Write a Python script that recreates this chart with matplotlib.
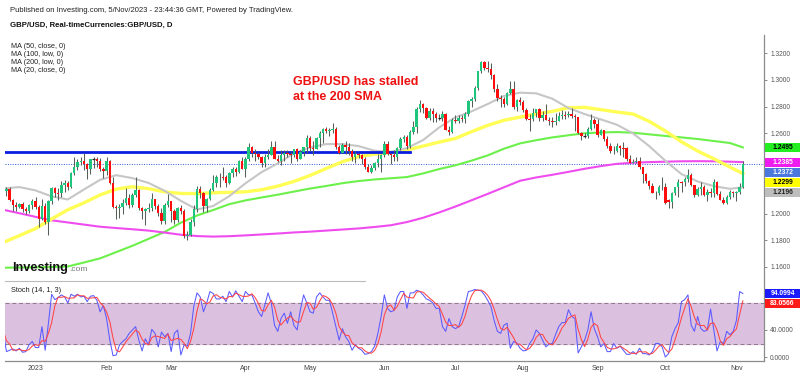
import numpy as np
import pandas as pd
import matplotlib.pyplot as plt
from matplotlib.patches import Rectangle
from matplotlib.lines import Line2D

plt.rcParams['font.family'] = ['Liberation Sans', 'DejaVu Sans']

# ---- daily GBP/USD bars, 19 Dec 2022 .. 3 Nov 2023 ----
opens = [
    1.2140, 1.2170, 1.2185, 1.2100, 1.2060, 1.2050, 1.2070, 1.2030, 1.2020, 1.2060,  # Dec
    1.2090, 1.2050, 1.1960, 1.2055, 1.1935, 1.2090, 1.2190, 1.2155, 1.2150, 1.2215, 1.2230,
    1.2200, 1.2300, 1.2350, 1.2385, 1.2395, 1.2370, 1.2330, 1.2405, 1.2405, 1.2395, 1.2335,  # Jan
    1.2320, 1.2395, 1.2225, 1.2050, 1.2040, 1.2050, 1.2075, 1.2115, 1.2060, 1.2140,
    1.2175, 1.2040, 1.2020, 1.2030, 1.2040, 1.2105, 1.2055, 1.2005, 1.1945, 1.2060,  # Feb
    1.2090, 1.2020, 1.1950, 1.2040, 1.2015, 1.1830, 1.1840, 1.1935, 1.2030, 1.2180, 1.2155, 1.2055,
    1.2110, 1.2175, 1.2225, 1.2270, 1.2275, 1.2270, 1.2230, 1.2300, 1.2330, 1.2310, 1.2390,  # Mar
    1.2335, 1.2405, 1.2500, 1.2450, 1.2445, 1.2420, 1.2380, 1.2425, 1.2440, 1.2495,
    1.2410, 1.2395, 1.2435, 1.2450, 1.2445, 1.2440, 1.2480, 1.2410, 1.2460, 1.2495,  # Apr
    1.2565, 1.2490, 1.2485, 1.2565, 1.2600, 1.2635, 1.2615, 1.2625, 1.2630, 1.2495, 1.2450, 1.2515,
    1.2495, 1.2470, 1.2420, 1.2445, 1.2440, 1.2410, 1.2345, 1.2310, 1.2340, 1.2380, 1.2410,  # May
    1.2435, 1.2520, 1.2445, 1.2435, 1.2425, 1.2490, 1.2560, 1.2575, 1.2505, 1.2610, 1.2645,
    1.2785, 1.2820, 1.2790, 1.2715, 1.2765, 1.2745, 1.2715, 1.2715, 1.2745, 1.2625, 1.2610,  # Jun
    1.2700, 1.2690, 1.2715, 1.2710, 1.2745, 1.2840, 1.2860, 1.2940, 1.3065, 1.3135, 1.3090,
    1.3085, 1.3040, 1.2935, 1.2865, 1.2855, 1.2820, 1.2900, 1.2930, 1.2795, 1.2850,  # Jul
    1.2835, 1.2775, 1.2710, 1.2710, 1.2750, 1.2785, 1.2715, 1.2740, 1.2700, 1.2690, 1.2685, 1.2690,
    1.2730, 1.2740, 1.2735, 1.2745, 1.2730, 1.2720, 1.2600, 1.2580, 1.2580, 1.2635, 1.2700,  # Aug
    1.2670, 1.2590, 1.2625, 1.2560, 1.2505, 1.2465, 1.2465, 1.2505, 1.2490, 1.2490, 1.2410,
    1.2380, 1.2385, 1.2395, 1.2345, 1.2295, 1.2240, 1.2205, 1.2150, 1.2155, 1.2195,  # Sep
    1.2200, 1.2100, 1.2085, 1.2155, 1.2195, 1.2235, 1.2235, 1.2260, 1.2290, 1.2210, 1.2135,
    1.2185, 1.2195, 1.2140, 1.2160, 1.2150, 1.2235, 1.2145, 1.2100, 1.2075, 1.2125, 1.2160,  # Oct
    1.2150, 1.2160, 1.2200,  # Nov
]
highs = [
    1.2195, 1.2200, 1.2200, 1.2110, 1.2085, 1.2080, 1.2085, 1.2045, 1.2070, 1.2110,
    1.2120, 1.2060, 1.2110, 1.2080, 1.2100, 1.2200, 1.2200, 1.2190, 1.2245, 1.2250, 1.2245,
    1.2310, 1.2420, 1.2410, 1.2420, 1.2450, 1.2380, 1.2410, 1.2420, 1.2420, 1.2415, 1.2350,
    1.2420, 1.2400, 1.2270, 1.2065, 1.2070, 1.2110, 1.2190, 1.2145, 1.2150, 1.2270,
    1.2180, 1.2050, 1.2040, 1.2075, 1.2150, 1.2110, 1.2070, 1.2040, 1.2080, 1.2145,
    1.2090, 1.2035, 1.2050, 1.2060, 1.2030, 1.1870, 1.1960, 1.2060, 1.2205, 1.2205, 1.2160, 1.2115,
    1.2190, 1.2285, 1.2285, 1.2300, 1.2345, 1.2290, 1.2310, 1.2345, 1.2345, 1.2400, 1.2425,
    1.2420, 1.2525, 1.2505, 1.2485, 1.2460, 1.2430, 1.2445, 1.2485, 1.2545, 1.2545,
    1.2440, 1.2475, 1.2475, 1.2475, 1.2470, 1.2485, 1.2490, 1.2475, 1.2495, 1.2585,
    1.2580, 1.2545, 1.2570, 1.2620, 1.2640, 1.2645, 1.2640, 1.2680, 1.2650, 1.2515, 1.2530, 1.2545,
    1.2525, 1.2480, 1.2470, 1.2455, 1.2445, 1.2420, 1.2370, 1.2360, 1.2385, 1.2445, 1.2445,
    1.2545, 1.2545, 1.2455, 1.2475, 1.2495, 1.2570, 1.2585, 1.2590, 1.2625, 1.2695, 1.2795,
    1.2850, 1.2825, 1.2800, 1.2790, 1.2790, 1.2760, 1.2745, 1.2765, 1.2750, 1.2655, 1.2715,
    1.2735, 1.2735, 1.2740, 1.2760, 1.2850, 1.2870, 1.2955, 1.3070, 1.3145, 1.3145, 1.3140,
    1.3125, 1.3045, 1.2970, 1.2890, 1.2875, 1.2910, 1.2995, 1.2995, 1.2860, 1.2870,
    1.2850, 1.2790, 1.2745, 1.2790, 1.2785, 1.2790, 1.2765, 1.2820, 1.2720, 1.2720, 1.2750, 1.2760,
    1.2775, 1.2765, 1.2770, 1.2790, 1.2745, 1.2725, 1.2610, 1.2605, 1.2645, 1.2745, 1.2715,
    1.2710, 1.2635, 1.2625, 1.2580, 1.2525, 1.2505, 1.2525, 1.2510, 1.2535, 1.2495, 1.2440,
    1.2410, 1.2425, 1.2425, 1.2350, 1.2300, 1.2250, 1.2225, 1.2170, 1.2210, 1.2270,
    1.2230, 1.2110, 1.2160, 1.2200, 1.2260, 1.2245, 1.2275, 1.2335, 1.2305, 1.2215, 1.2200,
    1.2235, 1.2215, 1.2180, 1.2190, 1.2260, 1.2240, 1.2165, 1.2120, 1.2140, 1.2175, 1.2170,
    1.2170, 1.2230, 1.2390,
]
lows = [
    1.2120, 1.2130, 1.2090, 1.2020, 1.2020, 1.2040, 1.2010, 1.2000, 1.2005, 1.2030,
    1.2030, 1.1900, 1.1950, 1.1925, 1.1840, 1.2070, 1.2120, 1.2100, 1.2120, 1.2160, 1.2175,
    1.2190, 1.2290, 1.2325, 1.2360, 1.2325, 1.2260, 1.2295, 1.2340, 1.2350, 1.2320, 1.2265,
    1.2290, 1.2220, 1.2040, 1.1960, 1.1970, 1.2000, 1.2060, 1.2040, 1.2045, 1.2120,
    1.2025, 1.1960, 1.1915, 1.2010, 1.2020, 1.2030, 1.1985, 1.1925, 1.1925, 1.2045,
    1.1940, 1.1920, 1.1940, 1.1995, 1.1820, 1.1805, 1.1830, 1.1905, 1.2010, 1.2115, 1.2010, 1.2010,
    1.2100, 1.2170, 1.2200, 1.2200, 1.2250, 1.2200, 1.2220, 1.2270, 1.2280, 1.2300, 1.2330,
    1.2275, 1.2390, 1.2420, 1.2390, 1.2410, 1.2345, 1.2345, 1.2410, 1.2440, 1.2405,
    1.2385, 1.2365, 1.2390, 1.2420, 1.2375, 1.2425, 1.2390, 1.2405, 1.2430, 1.2455,
    1.2470, 1.2440, 1.2480, 1.2500, 1.2525, 1.2605, 1.2580, 1.2600, 1.2485, 1.2445, 1.2450, 1.2445,
    1.2435, 1.2390, 1.2380, 1.2415, 1.2370, 1.2330, 1.2310, 1.2300, 1.2325, 1.2350, 1.2310,
    1.2425, 1.2435, 1.2370, 1.2390, 1.2390, 1.2475, 1.2535, 1.2485, 1.2490, 1.2595, 1.2605,
    1.2760, 1.2750, 1.2705, 1.2700, 1.2685, 1.2685, 1.2700, 1.2690, 1.2625, 1.2590, 1.2605,
    1.2680, 1.2680, 1.2685, 1.2680, 1.2730, 1.2800, 1.2845, 1.2925, 1.3055, 1.3075, 1.3060,
    1.3010, 1.2910, 1.2845, 1.2800, 1.2800, 1.2810, 1.2895, 1.2780, 1.2765, 1.2815,
    1.2760, 1.2700, 1.2620, 1.2690, 1.2720, 1.2690, 1.2690, 1.2700, 1.2660, 1.2650, 1.2660, 1.2690,
    1.2710, 1.2710, 1.2720, 1.2715, 1.2615, 1.2595, 1.2550, 1.2565, 1.2565, 1.2625, 1.2640,
    1.2575, 1.2585, 1.2545, 1.2490, 1.2455, 1.2445, 1.2460, 1.2440, 1.2425, 1.2390, 1.2380,
    1.2375, 1.2375, 1.2330, 1.2230, 1.2230, 1.2185, 1.2150, 1.2110, 1.2135, 1.2175,
    1.2070, 1.2040, 1.2040, 1.2135, 1.2120, 1.2160, 1.2205, 1.2235, 1.2205, 1.2120, 1.2130,
    1.2135, 1.2130, 1.2090, 1.2120, 1.2120, 1.2135, 1.2100, 1.2070, 1.2070, 1.2110, 1.2120,
    1.2095, 1.2145, 1.2190,
]
closes = [
    1.2170, 1.2185, 1.2100, 1.2060, 1.2050, 1.2070, 1.2030, 1.2020, 1.2060, 1.2090,
    1.2050, 1.1960, 1.2055, 1.1935, 1.2090, 1.2190, 1.2155, 1.2150, 1.2215, 1.2230, 1.2200,
    1.2300, 1.2350, 1.2385, 1.2395, 1.2370, 1.2330, 1.2405, 1.2405, 1.2395, 1.2335, 1.2320,
    1.2395, 1.2225, 1.2050, 1.2040, 1.2050, 1.2075, 1.2115, 1.2060, 1.2140, 1.2175,
    1.2040, 1.2020, 1.2030, 1.2040, 1.2105, 1.2055, 1.2005, 1.1945, 1.2060, 1.2090,
    1.2020, 1.1950, 1.2040, 1.2015, 1.1830, 1.1840, 1.1935, 1.2030, 1.2180, 1.2155, 1.2055, 1.2110,
    1.2175, 1.2225, 1.2270, 1.2275, 1.2270, 1.2230, 1.2300, 1.2330, 1.2310, 1.2390, 1.2335,
    1.2405, 1.2500, 1.2450, 1.2445, 1.2420, 1.2380, 1.2425, 1.2440, 1.2495, 1.2410,
    1.2395, 1.2435, 1.2450, 1.2445, 1.2440, 1.2480, 1.2410, 1.2460, 1.2495, 1.2565,
    1.2490, 1.2485, 1.2565, 1.2600, 1.2635, 1.2615, 1.2625, 1.2630, 1.2495, 1.2450, 1.2515, 1.2495,
    1.2470, 1.2420, 1.2445, 1.2440, 1.2410, 1.2345, 1.2310, 1.2340, 1.2380, 1.2410, 1.2435,
    1.2520, 1.2445, 1.2435, 1.2425, 1.2490, 1.2560, 1.2575, 1.2505, 1.2610, 1.2645, 1.2785,
    1.2820, 1.2790, 1.2715, 1.2765, 1.2745, 1.2715, 1.2715, 1.2745, 1.2625, 1.2610, 1.2700,
    1.2690, 1.2715, 1.2710, 1.2745, 1.2840, 1.2860, 1.2940, 1.3065, 1.3135, 1.3090, 1.3085,
    1.3040, 1.2935, 1.2865, 1.2855, 1.2820, 1.2900, 1.2930, 1.2795, 1.2850, 1.2835,
    1.2775, 1.2710, 1.2705, 1.2750, 1.2785, 1.2715, 1.2740, 1.2700, 1.2690, 1.2685, 1.2690, 1.2730,
    1.2740, 1.2735, 1.2745, 1.2730, 1.2720, 1.2600, 1.2580, 1.2580, 1.2635, 1.2700, 1.2670,
    1.2590, 1.2625, 1.2560, 1.2505, 1.2465, 1.2470, 1.2505, 1.2490, 1.2485, 1.2410, 1.2380,
    1.2385, 1.2395, 1.2345, 1.2295, 1.2240, 1.2205, 1.2150, 1.2155, 1.2195, 1.2200,
    1.2075, 1.2085, 1.2155, 1.2195, 1.2235, 1.2230, 1.2260, 1.2290, 1.2210, 1.2135, 1.2185,
    1.2195, 1.2140, 1.2160, 1.2150, 1.2235, 1.2145, 1.2100, 1.2075, 1.2125, 1.2160, 1.2150,
    1.2160, 1.2200, 1.2372,
]

# moving averages, sampled every 5th bar from the first bar, plus the last bar
ma20 = [1.2188, 1.2198, 1.2173, 1.2128, 1.2105, 1.2180, 1.2252, 1.2287, 1.2265, 1.2229,
        1.2170, 1.2095, 1.2030, 1.2056, 1.2130, 1.2226, 1.2310, 1.2375, 1.2450, 1.2495,
        1.2520, 1.2520, 1.2505, 1.2470, 1.2462, 1.2490, 1.2550, 1.2645, 1.2720, 1.2765,
        1.2820, 1.2880, 1.2905, 1.2900, 1.2860, 1.2790, 1.2745, 1.2705, 1.2665, 1.2600,
        1.2505, 1.2395, 1.2295, 1.2240, 1.2205, 1.2185, 1.2196]
ma50 = [1.1783, 1.1834, 1.1887, 1.1959, 1.2028, 1.2080, 1.2139, 1.2183, 1.2200, 1.2186,
        1.2162, 1.2150, 1.2149, 1.2155, 1.2159, 1.2162, 1.2178, 1.2205, 1.2240, 1.2285,
        1.2337, 1.2388, 1.2425, 1.2445, 1.2457, 1.2475, 1.2505, 1.2535, 1.2562, 1.2613,
        1.2660, 1.2698, 1.2722, 1.2746, 1.2765, 1.2792, 1.2795, 1.2778, 1.2760, 1.2745,
        1.2690, 1.2618, 1.2537, 1.2468, 1.2410, 1.2348, 1.2299]
ma100 = [1.1594, 1.1595, 1.1597, 1.1599, 1.1603, 1.1633, 1.1664, 1.1711, 1.1758, 1.1810,
         1.1862, 1.1931, 1.1985, 1.2026, 1.2070, 1.2098, 1.2120, 1.2141, 1.2164, 1.2187,
         1.2206, 1.2227, 1.2243, 1.2255, 1.2264, 1.2273, 1.2300, 1.2333, 1.2361, 1.2396,
         1.2435, 1.2485, 1.2525, 1.2549, 1.2570, 1.2586, 1.2601, 1.2607, 1.2610, 1.2605,
         1.2593, 1.2581, 1.2570, 1.2558, 1.2543, 1.2528, 1.2495]
ma200 = [1.2028, 1.2002, 1.1975, 1.1949, 1.1933, 1.1917, 1.1901, 1.1891, 1.1882, 1.1872,
         1.1857, 1.1841, 1.1831, 1.1827, 1.1830, 1.1836, 1.1843, 1.1850, 1.1858, 1.1864,
         1.1872, 1.1880, 1.1888, 1.1899, 1.1912, 1.1936, 1.1968, 1.2008, 1.2052, 1.2099,
         1.2147, 1.2196, 1.2245, 1.2270, 1.2290, 1.2312, 1.2335, 1.2355, 1.2372, 1.2380,
         1.2385, 1.2388, 1.2391, 1.2392, 1.2391, 1.2388, 1.2385]

# stochastic %K (14, 1) per bar
stoch_k = [40, 8, 10, 12, 9, 13, 7, 8, 18, 23,
           14, 14, 45, 10, 50, 93, 85, 88, 92, 89,
           80, 93, 90, 93, 89, 90, 82, 90, 91, 84,
           67, 76, 57, 25, 2, 3, 18, 23, 27, 35,
           40, 45, 25, 9, 27, 18, 41, 35, 15, 37,
           30, 35, 8, 35, 40, 3, 18, 16, 35, 75,
           95, 89, 67, 80, 97, 94, 86, 86, 90, 82,
           97, 89, 98, 90, 82, 97, 92, 92, 80, 67,
           60, 77, 95, 80, 47, 38, 57, 65, 50, 67,
           47, 40, 70, 92, 80, 67, 65, 89, 95, 89,
           84, 84, 65, 45, 25, 42, 30, 23, 10, 18,
           13, 10, 4, 5, 8, 16, 35, 60, 92, 72,
           67, 69, 89, 97, 97, 72, 95, 95, 99, 97,
           92, 86, 84, 80, 72, 72, 45, 38, 57, 45,
           42, 45, 60, 77, 97, 98, 100, 99, 98, 92,
           84, 75, 54, 38, 35, 47, 50, 13, 23, 21,
           13, 9, 10, 20, 27, 40, 35, 25, 15, 19,
           20, 33, 45, 51, 51, 70, 60, 57, 6, 15,
           25, 40, 67, 42, 30, 15, 20, 8, 8, 20,
           13, 16, 10, 4, 4, 8, 4, 13, 5, 5,
           3, 8, 20, 20, 15, 0, 5, 30, 42, 51,
           82, 85, 92, 47, 38, 60, 42, 38, 40, 71,
           40, 9, 23, 20, 38, 33, 38, 54, 97, 94.0994]

resistance = 1.2460
resistance_until = '2023-06-13'

n = len(closes)
dates = pd.bdate_range('2022-12-19', periods=n)
x = np.arange(n)
o = np.array(opens[:n]); h = np.array(highs[:n]); l = np.array(lows[:n]); c = np.array(closes[:n])

ma_x = np.r_[np.arange(0, n, 5), n - 1][:len(ma20)]

k = pd.Series(stoch_k, dtype=float)
d = k.rolling(3, min_periods=1).mean()
d.iloc[-1] = 83.0566
kx = np.arange(len(k))

W, H = 800, 376
fig = plt.figure(figsize=(8, 3.76), dpi=100)
fig.patch.set_facecolor('white')

ax = fig.add_axes([5 / W, 1 - 281 / H, 759 / W, 246 / H])
axs = fig.add_axes([5 / W, 1 - 361 / H, 759 / W, 79 / H], sharex=ax)

# ---- main panel ----
ax.plot(ma_x, ma100, color='#6cf04a', lw=1.5, zorder=2)
ax.plot(ma_x, ma200, color='#ef4cef', lw=1.5, zorder=2)
ax.plot(ma_x, ma50, color='#ffff55', lw=2.4, zorder=2)
ax.plot(ma_x, ma20, color='#c6c6c6', lw=1.5, zorder=2)

end_i = dates.get_indexer([pd.Timestamp(resistance_until)])[0]
ax.plot([0, end_i], [resistance, resistance], color='#0a1ee0', lw=2.0, zorder=3)
ax.axhline(c[-1], color='#2f56d8', lw=0.7, ls=(0, (1, 1.5)), zorder=1)

up = c > o
dn = c < o
eq = c == o
body = np.maximum(np.abs(c - o), 0.0006)
ax.vlines(x, l, h, color='#556058', lw=0.75, zorder=4)
ax.bar(x[up], body[up], bottom=o[up], width=0.75, color='#1fc57a', zorder=5)
ax.bar(x[dn], body[dn], bottom=c[dn] - (body[dn] - (o - c)[dn]), width=0.75,
       color='#ff0d0d', zorder=5)
ax.hlines(c[eq], x[eq] - 0.5, x[eq] + 0.5, color='#222222', lw=0.9, zorder=5)

x0 = 10 - 30.5 / 3.23
x1 = 10 + 728.5 / 3.23
ax.set_xlim(x0, x1)
ax.set_ylim(1.32 - (281 - 53.3) / 1335, 1.32 + (53.3 - 35) / 1335)

ax.yaxis.tick_right()
ax.set_yticks([1.16, 1.18, 1.20, 1.26, 1.28, 1.30, 1.32])
ax.yaxis.set_major_formatter(plt.FormatStrFormatter('%.4f'))
ax.tick_params(axis='y', length=2.5, width=0.6, color='#777777', labelsize=4.8,
               labelcolor='#555555', pad=2)
ax.tick_params(axis='x', length=0, labelbottom=False)
for s in ['top', 'left', 'bottom']:
    ax.spines[s].set_visible(False)
ax.spines['right'].set_color('#8c8c8c')
ax.spines['right'].set_linewidth(0.9)
ax.set_facecolor('none')


def label_boxes(axis, items, step):
    """Coloured value tags on the right, stacked so they do not overlap."""
    prev = None
    for val, txt, fc, tc in sorted(items, key=lambda t: -t[0]):
        yp = axis.transData.transform((0, val))[1]
        if prev is not None and yp > prev - step:
            yp = prev - step
        prev = yp
        fig.add_artist(Rectangle((765 / W, (yp - step / 2) / H), 35 / W, (step - 0.5) / H,
                                 transform=fig.transFigure, facecolor=fc, edgecolor='none'))
        fig.text(782.5 / W, yp / H, txt, color=tc, fontsize=4.9, fontweight='bold',
                 ha='center', va='center')


label_boxes(ax, [(ma100[-1], f'{ma100[-1]:.4f}', '#22ee22', '#000000'),
                 (ma200[-1], f'{ma200[-1]:.4f}', '#ee1cee', '#ffffff'),
                 (c[-1], f'{c[-1]:.4f}', '#4a78dc', '#ffffff'),
                 (ma50[-1], f'{ma50[-1]:.4f}', '#ffff00', '#000000'),
                 (ma20[-1], f'{ma20[-1]:.4f}', '#bdbdbd', '#222222')], 10)

# ---- stochastic panel ----
axs.axhspan(20, 80, color='#dcc0e0', zorder=0)
axs.axhline(80, color='#8a7a8a', lw=0.7, ls=(0, (4, 3)), zorder=1)
axs.axhline(20, color='#8a7a8a', lw=0.7, ls=(0, (4, 3)), zorder=1)
axs.plot(kx, k, color='#5a5aff', lw=0.75, zorder=3)
axs.plot(kx, d, color='#ff4444', lw=0.75, zorder=3)
axs.set_ylim((357 - 361) / 0.675, (357 - 282) / 0.675)

month_pos = [i for i in range(n) if i == 0 or dates[i].month != dates[i - 1].month][1:]
month_lab = ['2023' if dates[i].month == 1 else dates[i].strftime('%b') for i in month_pos]
axs.set_xticks(month_pos)
axs.set_xticklabels(month_lab)
axs.tick_params(axis='x', length=0, labelsize=5, labelcolor='#444444', pad=3)
axs.yaxis.tick_right()
axs.set_yticks([0, 40])
axs.yaxis.set_major_formatter(plt.FormatStrFormatter('%.4f'))
axs.tick_params(axis='y', length=2.5, width=0.6, color='#777777', labelsize=4.8,
                labelcolor='#555555', pad=2)
for s in ['top', 'left']:
    axs.spines[s].set_visible(False)
for s in ['right', 'bottom']:
    axs.spines[s].set_color('#8c8c8c')
    axs.spines[s].set_linewidth(0.9)
axs.set_facecolor('none')

label_boxes(axs, [(k.iloc[-1], f'{k.iloc[-1]:.4f}', '#1a1aff', '#ffffff'),
                  (d.iloc[-1], f'{d.iloc[-1]:.4f}', '#ff1a1a', '#ffffff')], 10)

# ---- texts ----
fig.text(10 / W, 1 - 11 / H, 'Published on Investing.com, 5/Nov/2023 - 23:44:36 GMT, Powered by TradingView.',
         fontsize=5.5, color='#222222', va='center')
fig.text(10 / W, 1 - 25 / H, 'GBP/USD, Real-timeCurrencies:GBP/USD, D',
         fontsize=5.6, fontweight='bold', color='#111111', va='center')
for j, t in enumerate(['MA (50, close, 0)', 'MA (100, low, 0)', 'MA (200, low, 0)', 'MA (20, close, 0)']):
    fig.text(11 / W, 1 - (46 + 8 * j) / H, t, fontsize=5.2, color='#222222', va='center')

fig.text(293 / W, 1 - 82 / H, 'GBP/USD has stalled', fontsize=9, fontweight='bold',
         color='#ee1111', va='center')
fig.text(293 / W, 1 - 97 / H, 'at the 200 SMA', fontsize=9, fontweight='bold',
         color='#ee1111', va='center')

logo = fig.text(12 / W, 1 - 271 / H, 'Investing', fontsize=9.2, fontweight='heavy',
                color='#111111', va='baseline')
r = fig.canvas.get_renderer()
lx = logo.get_window_extent(r).x1
fig.text((lx + 1) / W, 1 - 271 / H, '.com', fontsize=6, color='#777777', va='baseline')
fig.add_artist(Line2D([5 / W, 365 / W], [1 - 281 / H] * 2, color='#bbbbbb', lw=0.8,
                      transform=fig.transFigure))
fig.text(11 / W, 1 - 291 / H, 'Stoch (14, 1, 3)', fontsize=5.3, color='#222222', va='center')

fig.savefig('out.png', dpi=100, facecolor='white')
